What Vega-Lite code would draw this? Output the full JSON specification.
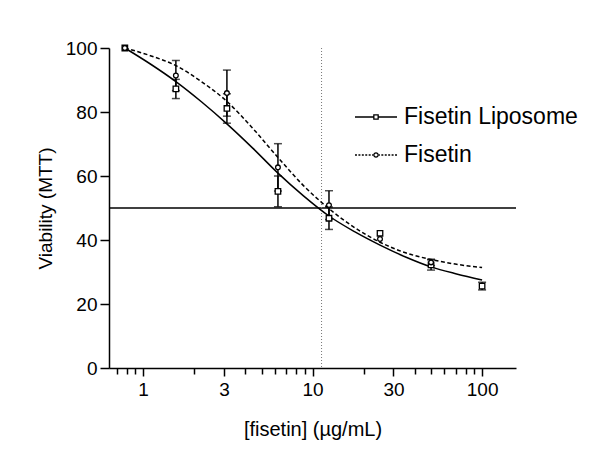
{
  "$schema": "https://vega.github.io/schema/vega-lite/v6.json",
  "width": 407,
  "height": 320,
  "autosize": {"type": "none"},
  "padding": {"left": 109, "top": 48, "right": 79, "bottom": 89},
  "background": "white",
  "datasets": {
    "points": [
      {"series": "Fisetin Liposome", "x": 0.78125, "y": 100, "err": 0},
      {"series": "Fisetin Liposome", "x": 1.5625, "y": 87.2, "err": 3.0},
      {"series": "Fisetin Liposome", "x": 3.125, "y": 81.1, "err": 4.6},
      {"series": "Fisetin Liposome", "x": 6.25, "y": 55.2, "err": 4.8},
      {"series": "Fisetin Liposome", "x": 12.5, "y": 46.8, "err": 3.5},
      {"series": "Fisetin Liposome", "x": 25, "y": 42.1, "err": 0},
      {"series": "Fisetin Liposome", "x": 50, "y": 32.2, "err": 1.6},
      {"series": "Fisetin Liposome", "x": 100, "y": 25.6, "err": 1.2},
      {"series": "Fisetin", "x": 0.78125, "y": 100, "err": 0},
      {"series": "Fisetin", "x": 1.5625, "y": 91.4, "err": 4.7},
      {"series": "Fisetin", "x": 3.125, "y": 85.9, "err": 7.2},
      {"series": "Fisetin", "x": 6.25, "y": 62.7, "err": 7.4},
      {"series": "Fisetin", "x": 12.5, "y": 50.9, "err": 4.5},
      {"series": "Fisetin", "x": 25, "y": 40.3, "err": 0},
      {"series": "Fisetin", "x": 50, "y": 33.0, "err": 1.0}
    ],
    "curve": [
      {"series": "Fisetin Liposome", "x": 0.78125, "y": 100},
      {"series": "Fisetin Liposome", "x": 1.105, "y": 95.0},
      {"series": "Fisetin Liposome", "x": 1.5625, "y": 89.5},
      {"series": "Fisetin Liposome", "x": 2.21, "y": 83.2},
      {"series": "Fisetin Liposome", "x": 3.125, "y": 76.3},
      {"series": "Fisetin Liposome", "x": 4.42, "y": 68.8},
      {"series": "Fisetin Liposome", "x": 6.25, "y": 60.9},
      {"series": "Fisetin Liposome", "x": 8.84, "y": 53.8},
      {"series": "Fisetin Liposome", "x": 12.5, "y": 47.5},
      {"series": "Fisetin Liposome", "x": 17.68, "y": 42.6},
      {"series": "Fisetin Liposome", "x": 25, "y": 38.4},
      {"series": "Fisetin Liposome", "x": 35.36, "y": 34.7},
      {"series": "Fisetin Liposome", "x": 50, "y": 31.6},
      {"series": "Fisetin Liposome", "x": 70.7, "y": 29.4},
      {"series": "Fisetin Liposome", "x": 100, "y": 27.5},
      {"series": "Fisetin", "x": 0.78125, "y": 100},
      {"series": "Fisetin", "x": 1.105, "y": 97.6},
      {"series": "Fisetin", "x": 1.5625, "y": 94.5},
      {"series": "Fisetin", "x": 2.21, "y": 89.5},
      {"series": "Fisetin", "x": 3.125, "y": 83.3},
      {"series": "Fisetin", "x": 4.42, "y": 75.0},
      {"series": "Fisetin", "x": 6.25, "y": 65.8},
      {"series": "Fisetin", "x": 8.84, "y": 57.0},
      {"series": "Fisetin", "x": 12.5, "y": 49.8},
      {"series": "Fisetin", "x": 17.68, "y": 43.9},
      {"series": "Fisetin", "x": 25, "y": 39.3},
      {"series": "Fisetin", "x": 35.36, "y": 36.0},
      {"series": "Fisetin", "x": 50, "y": 33.9},
      {"series": "Fisetin", "x": 70.7, "y": 32.4},
      {"series": "Fisetin", "x": 100, "y": 31.4}
    ]
  },
  "layer": [
    {
      "data": {"values": [{"level": 50}]},
      "mark": {"type": "rule", "color": "black", "strokeWidth": 1.5},
      "encoding": {
        "y": {"field": "level", "type": "quantitative", "title": "Viability (MTT)", "scale": {"type": "linear", "domain": [0, 100], "nice": false}}
      }
    },
    {
      "data": {"values": [{"ic50": 11.3}]},
      "mark": {"type": "rule", "color": "#777777", "strokeWidth": 1, "strokeDash": [1, 2]},
      "encoding": {
        "x": {"field": "ic50", "type": "quantitative", "title": "[fisetin] (µg/mL)", "scale": {"type": "log", "domain": [0.63, 158.5], "nice": false}}
      }
    },
    {
      "data": {"name": "curve"},
      "transform": [{"filter": "datum.series === 'Fisetin Liposome'"}],
      "mark": {"type": "line", "interpolate": "monotone", "color": "black", "strokeWidth": 1.5},
      "encoding": {
        "x": {
          "field": "x", "type": "quantitative", "title": "[fisetin] (µg/mL)",
          "scale": {"type": "log", "domain": [0.63, 158.5], "nice": false},
          "axis": {
            "values": [0.7, 0.8, 0.9, 1, 2, 3, 4, 5, 6, 7, 8, 9, 10, 20, 30, 40, 50, 60, 70, 80, 90, 100],
            "labelExpr": "indexof([1,3,10,30,100], datum.value) >= 0 ? format(datum.value, 'd') : ''",
            "tickSize": {"condition": {"test": "indexof([1,3,10,30,100], datum.value) >= 0", "value": 8}, "value": 6},
            "labelPadding": 4,
            "titlePadding": 20,
            "titleFontSize": 20
          }
        },
        "y": {
          "field": "y", "type": "quantitative", "title": "Viability (MTT)",
          "scale": {"type": "linear", "domain": [0, 100], "nice": false},
          "axis": {"values": [0, 20, 40, 60, 80, 100], "tickSize": 9, "labelPadding": 3, "titlePadding": 10, "titleFontSize": 19}
        }
      }
    },
    {
      "data": {"name": "curve"},
      "transform": [{"filter": "datum.series === 'Fisetin'"}],
      "mark": {"type": "line", "interpolate": "monotone", "color": "black", "strokeWidth": 1.5, "strokeDash": [4, 2.5]},
      "encoding": {
        "x": {"field": "x", "type": "quantitative", "title": "[fisetin] (µg/mL)", "scale": {"type": "log", "domain": [0.63, 158.5], "nice": false}},
        "y": {"field": "y", "type": "quantitative", "title": "Viability (MTT)", "scale": {"type": "linear", "domain": [0, 100], "nice": false}}
      }
    },
    {
      "data": {"name": "points"},
      "transform": [{"filter": "datum.err > 0"}],
      "mark": {"type": "errorbar", "color": "black", "thickness": 1.5, "ticks": {"size": 8, "thickness": 1.5, "color": "black"}},
      "encoding": {
        "x": {"field": "x", "type": "quantitative", "title": "[fisetin] (µg/mL)", "scale": {"type": "log", "domain": [0.63, 158.5], "nice": false}},
        "y": {"field": "y", "type": "quantitative", "title": "Viability (MTT)", "scale": {"type": "linear", "domain": [0, 100], "nice": false}},
        "yError": {"field": "err"}
      }
    },
    {
      "data": {"name": "points"},
      "transform": [{"filter": "datum.series === 'Fisetin Liposome'"}],
      "mark": {"type": "point", "shape": "square", "filled": true, "fill": "white", "stroke": "black", "strokeWidth": 1.3, "size": 30, "opacity": 1},
      "encoding": {
        "x": {"field": "x", "type": "quantitative", "title": "[fisetin] (µg/mL)", "scale": {"type": "log", "domain": [0.63, 158.5], "nice": false}},
        "y": {"field": "y", "type": "quantitative", "title": "Viability (MTT)", "scale": {"type": "linear", "domain": [0, 100], "nice": false}}
      }
    },
    {
      "data": {"name": "points"},
      "transform": [{"filter": "datum.series === 'Fisetin'"}],
      "mark": {"type": "point", "shape": "circle", "filled": true, "fill": "white", "stroke": "black", "strokeWidth": 1.3, "size": 22, "opacity": 1},
      "encoding": {
        "x": {"field": "x", "type": "quantitative", "title": "[fisetin] (µg/mL)", "scale": {"type": "log", "domain": [0.63, 158.5], "nice": false}},
        "y": {"field": "y", "type": "quantitative", "title": "Viability (MTT)", "scale": {"type": "linear", "domain": [0, 100], "nice": false}}
      }
    },
    {
      "data": {"name": "points"},
      "mark": {"type": "point", "filled": false, "opacity": 0, "color": "black", "strokeWidth": 1.3},
      "encoding": {
        "x": {"field": "x", "type": "quantitative", "title": "[fisetin] (µg/mL)", "scale": {"type": "log", "domain": [0.63, 158.5], "nice": false}},
        "y": {"field": "y", "type": "quantitative", "title": "Viability (MTT)", "scale": {"type": "linear", "domain": [0, 100], "nice": false}},
        "shape": {
          "field": "series", "type": "nominal",
          "scale": {
            "domain": ["Fisetin Liposome", "Fisetin"],
            "range": [
              "M-1.167,0H-0.12M0.12,0H1.167M-0.12,-0.12H0.12V0.12H-0.12Z",
              "M-1.167,0H-1.057M-0.977,0H-0.867M-0.787,0H-0.677M-0.597,0H-0.487M-0.407,0H-0.297M-0.217,0H-0.16M0.16,0H0.217M0.297,0H0.407M0.487,0H0.597M0.677,0H0.787M0.867,0H0.977M1.057,0H1.167M0.12,0A0.12,0.12 0 1,1 -0.12,0A0.12,0.12 0 1,1 0.12,0Z"
            ]
          },
          "legend": {
            "title": null,
            "orient": "none",
            "legendX": 248,
            "legendY": 50,
            "symbolSize": 1296,
            "symbolStrokeWidth": 1.3,
            "symbolStrokeColor": "black",
            "symbolOpacity": 1,
            "labelFontSize": 23,
            "labelFont": "Liberation Sans",
            "labelColor": "black",
            "labelOffset": 9,
            "labelLimit": 300,
            "rowPadding": 7
          }
        }
      }
    }
  ],
  "config": {
    "view": {"stroke": null},
    "font": "Liberation Sans",
    "axis": {
      "grid": false,
      "domainColor": "black",
      "domainWidth": 1.5,
      "tickColor": "black",
      "tickWidth": 1.5,
      "labelColor": "black",
      "labelFont": "Liberation Sans",
      "labelFontSize": 19,
      "titleColor": "black",
      "titleFont": "Liberation Sans",
      "titleFontWeight": "normal"
    }
  }
}
